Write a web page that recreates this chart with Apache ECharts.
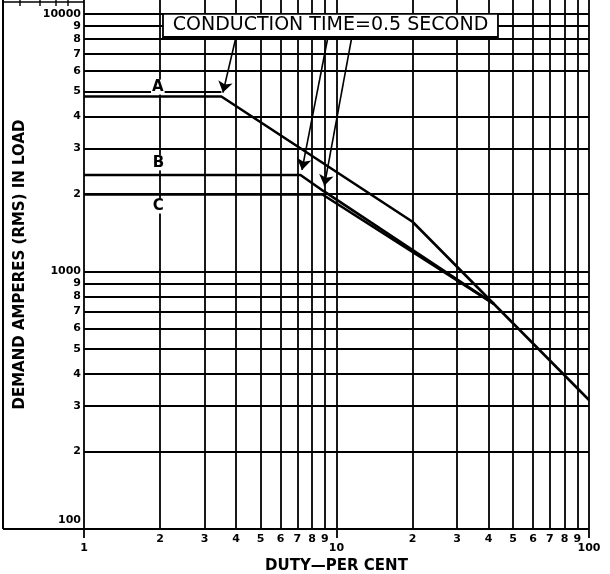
<!DOCTYPE html>
<html><head><meta charset="utf-8">
<script src="https://cdn.jsdelivr.net/npm/echarts@6/dist/echarts.min.js"></script>
<style>html,body{margin:0;padding:0;background:#fff}#c{width:610px;height:574px}</style>
</head><body><div id="c"></div>
<script>
// ---- data ----
const xMinorTickValues = [2,3,4,5,6,7,8,9,20,30,40,50,60,70,80,90];
const xMinorTickLabels = ['2','3','4','5','6','7','8','9','2','3','4','5','6','7','8','9'];
const xDecadeValues = [1,10,100];
const xDecadeLabels = ['1','10','100'];
const yTickValues = [100,200,300,400,500,600,700,800,900,1000,2000,3000,4000,5000,6000,7000,8000,9000,10000];
const yTickLabels = ['100','2','3','4','5','6','7','8','9','1000','2','3','4','5','6','7','8','9','10000'];
const yGridSkip = [5000];           // drawn only as a short leader
const partialGrid5000 = [[1,5000],[3.5,5000]];
const curveA = [[1,4780],[3.5,4780],[20,1560],[100,317]];
const curveB = [[1,2370],[7.2,2370],[8.9,2050],[42,748]];
const curveC = [[1,1990],[8.8,1990],[42,748]];
const curveLabels = [['A',1.96,5200],['B',1.97,2640],['C',1.97,1795]];
const noteText = 'CONDUCTION TIME=0.5 SECOND';
const noteBox = [[2.055,10000],[43.6,8140]];
const arrows = [
  [[4.0,8140],[3.55,4950]],
  [[9.25,8140],[7.3,2480]],
  [[11.5,8140],[8.95,2150]]
];
const xTitle = 'DUTY\u2014PER CENT';
const yTitle = 'DEMAND AMPERES (RMS) IN LOAD';

// ---- chart ----
const FONT = 'DejaVu Sans';
function pick(vals, labels, v) {
  let bi = 0, bd = Infinity;
  for (let i = 0; i < vals.length; i++) {
    const d = Math.abs(Math.log10(v) - Math.log10(vals[i]));
    if (d < bd) { bd = d; bi = i; }
  }
  return { t: labels[bi], v: vals[bi] };
}
const chart = echarts.init(document.getElementById('c'), null, {renderer: 'canvas'});
const xGridValues = xDecadeValues.concat(xMinorTickValues).sort((a, b) => a - b);
const gridLines = [];
xGridValues.forEach(v => gridLines.push({xAxis: v}));
yTickValues.filter(v => yGridSkip.indexOf(v) < 0).forEach(v => gridLines.push({yAxis: v}));
gridLines.push([{coord: partialGrid5000[0]}, {coord: partialGrid5000[1]}]);

const lineSeries = (data) => ({
  type: 'line', data: data, showSymbol: false, symbol: 'none', z: 3, silent: true,
  lineStyle: {color: '#000', width: 2.6}, animation: false
});
const lblStyle = {color: '#000', fontFamily: FONT, fontSize: 11, fontWeight: 'bold',
  showMinLabel: true, showMaxLabel: true, hideOverlap: false};

chart.setOption({
  animation: false,
  backgroundColor: '#fff',
  textStyle: {fontFamily: FONT},
  grid: {left: 84, right: 21, top: 0, bottom: 45, containLabel: false, outerBoundsMode: 'none'},
  xAxis: [{
    type: 'log', logBase: 10, min: 1, max: 100,
    axisLine: {show: false}, splitLine: {show: false}, minorTick: {show: false},
    axisTick: {show: false},
    axisLabel: Object.assign({}, lblStyle, {
      customValues: xMinorTickValues, margin: 5,
      formatter: v => pick(xMinorTickValues, xMinorTickLabels, v).t
    })
  }, {
    type: 'log', logBase: 10, min: 1, max: 100, position: 'bottom', offset: 0,
    name: xTitle, nameLocation: 'middle', nameGap: 22,
    nameTextStyle: {fontFamily: FONT, fontSize: 15, fontWeight: 'bold', color: '#000'},
    axisLine: {show: false}, splitLine: {show: false}, minorTick: {show: false},
    axisTick: {show: true, customValues: xDecadeValues, length: 9, inside: false,
      lineStyle: {color: '#000', width: 1.8}},
    axisLabel: Object.assign({}, lblStyle, {
      customValues: xDecadeValues, margin: 14,
      formatter: v => pick(xDecadeValues, xDecadeLabels, v).t
    })
  }],
  yAxis: {
    type: 'log', logBase: 10, min: 100, max: 11330,
    name: yTitle, nameLocation: 'middle', nameGap: 56, nameRotate: 90,
    nameTextStyle: {fontFamily: FONT, fontSize: 15, fontWeight: 'bold', color: '#000'},
    axisLine: {show: false}, splitLine: {show: false}, axisTick: {show: false}, minorTick: {show: false},
    axisLabel: Object.assign({}, lblStyle, {
      customValues: yTickValues, margin: 3,
      formatter: function (v) {
        const p = pick(yTickValues, yTickLabels, v);
        return p.v === 100 ? '{up|' + p.t + '}' : p.t;
      },
      rich: {up: {fontFamily: FONT, fontSize: 11, fontWeight: 'bold', color: '#000', padding: [0,0,18,0]}}
    })
  },
  graphic: [
    {type: 'line', shape: {x1: 3, y1: 0, x2: 3, y2: 529}, style: {stroke: '#000', lineWidth: 2}},
    {type: 'line', shape: {x1: 3, y1: 529, x2: 84, y2: 529}, style: {stroke: '#000', lineWidth: 1.8}},
    {type: 'line', shape: {x1: 3, y1: 2, x2: 84, y2: 2}, style: {stroke: '#000', lineWidth: 1.6}},
    {type: 'line', shape: {x1: 20, y1: 0, x2: 20, y2: 6}, style: {stroke: '#000', lineWidth: 1.4}},
    {type: 'line', shape: {x1: 40, y1: 0, x2: 40, y2: 6}, style: {stroke: '#000', lineWidth: 1.4}},
    {type: 'line', shape: {x1: 56, y1: 0, x2: 56, y2: 6}, style: {stroke: '#000', lineWidth: 1.4}},
    {type: 'line', shape: {x1: 68, y1: 0, x2: 68, y2: 6}, style: {stroke: '#000', lineWidth: 1.4}}
  ],
  series: [
    {
      type: 'line', data: [], z: 1, silent: true, animation: false,
      markLine: {
        silent: true, z: 1, animation: false, symbol: ['none','none'],
        label: {show: false},
        lineStyle: {color: '#000', width: 1.8, type: 'solid'},
        emphasis: {disabled: true},
        data: gridLines
      }
    },
    lineSeries(curveA),
    lineSeries(curveB),
    lineSeries(curveC),
    {
      type: 'line', data: [], z: 4, silent: true, animation: false,
      itemStyle: {color: '#000'},
      markArea: {
        silent: true, z: 6, animation: false,
        itemStyle: {color: '#fff', borderColor: '#000', borderWidth: 1.8},
        label: {show: true, position: 'inside', color: '#000', fontFamily: FONT, fontSize: 19},
        emphasis: {disabled: true},
        data: [[{coord: noteBox[0], name: noteText}, {coord: noteBox[1]}]]
      },
      markLine: {
        silent: true, z: 7, animation: false, symbol: ['none','arrow'], symbolSize: 11,
        label: {show: false},
        itemStyle: {color: '#000'},
        lineStyle: {color: '#000', width: 1.6, type: 'solid'},
        emphasis: {disabled: true},
        data: arrows.map(a => [{coord: a[0]}, {coord: a[1]}])
      },
      markPoint: {
        silent: true, z: 8, animation: false, symbol: 'circle', symbolSize: 1,
        itemStyle: {color: 'rgba(0,0,0,0)'},
        label: {show: true, position: 'inside', formatter: '{b}', color: '#000',
          fontFamily: FONT, fontSize: 15, fontWeight: 'bold', backgroundColor: '#fff', padding: [0,1]},
        emphasis: {disabled: true},
        data: curveLabels.map(l => ({name: l[0], coord: [l[1], l[2]]}))
      }
    }
  ]
});
</script></body></html>
